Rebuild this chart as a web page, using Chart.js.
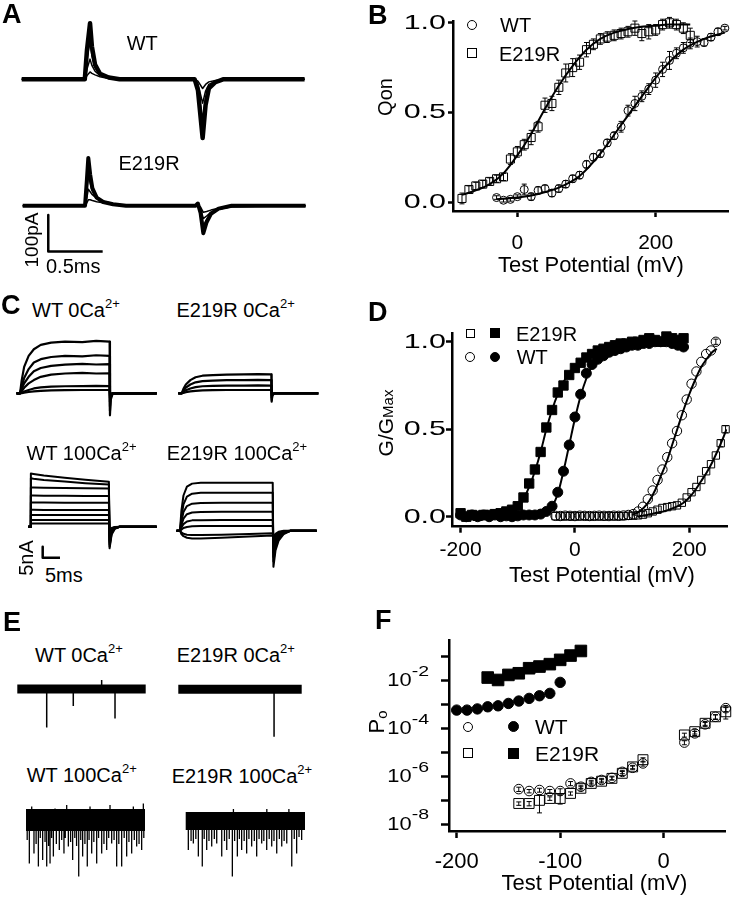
<!DOCTYPE html>
<html>
<head>
<meta charset="utf-8">
<title>WT and E219R: gating charge, G-V and open probability</title>
<script src="https://cdn.jsdelivr.net/npm/chart.js@4.4.1/dist/chart.umd.min.js"></script>
<style>
  html, body { margin: 0; padding: 0; background: #fff; }
  #fig { position: relative; width: 735px; height: 899px; overflow: hidden;
         font-family: 'Liberation Sans', Arial, sans-serif; color: #000; }
  #fig canvas { position: absolute; }
  .t { position: absolute; white-space: nowrap; line-height: 1; font-size: 20px; }
  .t sup { font-size: 0.65em; line-height: 0; vertical-align: 0.72em; }
  .lab { font-size: 27px; font-weight: bold; }
  .axt { font-size: 22px; }
  .rot { transform: translate(-50%, -50%) rotate(-90deg); }
  .mk { position: absolute; box-sizing: border-box; border: 1.3px solid #000; }
  .mk.c { border-radius: 50%; }
  .mk.f { background: #000; }
</style>
</head>
<body>
<div id="fig">
  <!-- trace panels -->
  <canvas id="aWt" width="300" height="130" style="left:15px;top:15px"></canvas>
  <canvas id="aE219r" width="300" height="115" style="left:15px;top:150px"></canvas>
  <canvas id="cWt0" width="152" height="100" style="left:10px;top:325px"></canvas>
  <canvas id="cE0" width="155" height="100" style="left:170px;top:325px"></canvas>
  <canvas id="cWt100" width="152" height="100" style="left:10px;top:462px"></canvas>
  <canvas id="cE100" width="155" height="110" style="left:170px;top:462px"></canvas>
  <canvas id="eWt0" width="145" height="75" style="left:10px;top:670px"></canvas>
  <canvas id="eE0" width="140" height="75" style="left:170px;top:670px"></canvas>
  <canvas id="eWt100" width="145" height="95" style="left:10px;top:790px"></canvas>
  <canvas id="eE100" width="140" height="95" style="left:175px;top:790px"></canvas>
  <!-- plots -->
  <canvas id="qon" width="365" height="290" style="left:370px;top:0px"></canvas>
  <canvas id="gv" width="365" height="300" style="left:370px;top:290px"></canvas>
  <canvas id="po" width="365" height="309" style="left:370px;top:590px"></canvas>

  <!-- panel letters -->
  <div class="t lab" style="left:2px;top:1px">A</div>
  <div class="t lab" style="left:368px;top:2px">B</div>
  <div class="t lab" style="left:1px;top:292px">C</div>
  <div class="t lab" style="left:368px;top:299px">D</div>
  <div class="t lab" style="left:3px;top:609px">E</div>
  <div class="t lab" style="left:375px;top:607px">F</div>

  <!-- trace labels -->
  <div class="t" style="left:126.7px;top:33px">WT</div>
  <div class="t" style="left:118.5px;top:153px">E219R</div>
  <div class="t" style="left:32px;top:300px">WT 0Ca<sup>2+</sup></div>
  <div class="t" style="left:176.5px;top:300px">E219R 0Ca<sup>2+</sup></div>
  <div class="t" style="left:26.5px;top:443px">WT 100Ca<sup>2+</sup></div>
  <div class="t" style="left:166.7px;top:443px">E219R 100Ca<sup>2+</sup></div>
  <div class="t" style="left:35px;top:644.8px">WT 0Ca<sup>2+</sup></div>
  <div class="t" style="left:176.7px;top:644.8px">E219R 0Ca<sup>2+</sup></div>
  <div class="t" style="left:26.7px;top:764.8px">WT 100Ca<sup>2+</sup></div>
  <div class="t" style="left:171.7px;top:766.4px">E219R 100Ca<sup>2+</sup></div>

  <!-- scale bar labels -->
  <div class="t" style="left:46px;top:256.4px">0.5ms</div>
  <div class="t rot" style="left:31px;top:239.5px;font-size:19px">100pA</div>
  <div class="t" style="left:45px;top:564.8px">5ms</div>
  <div class="t rot" style="left:25.8px;top:558.3px">5nA</div>

  <!-- axis titles -->
  <div class="t axt" style="left:498px;top:253.8px">Test Potential (mV)</div>
  <div class="t axt" style="left:509px;top:563.8px">Test Potential (mV)</div>
  <div class="t axt" style="left:501.5px;top:871.5px">Test Potential (mV)</div>
  <div class="t rot" style="left:384.5px;top:97px;font-size:20px">Qon</div>
  <div class="t rot" style="left:385px;top:423.3px;font-size:21px">G/G<span style="font-size:15px">Max</span></div>
  <div class="t rot" style="left:377px;top:722px;font-size:22px">P<span style="font-size:15px;vertical-align:-0.2em">o</span></div>

  <!-- legends -->
  <div class="mk c" style="left:466.7px;top:20px;width:10px;height:10px"></div>
  <div class="t" style="left:500px;top:15.1px">WT</div>
  <div class="mk" style="left:466.7px;top:48.3px;width:10px;height:10px"></div>
  <div class="t" style="left:499px;top:43.6px">E219R</div>

  <div class="mk" style="left:465.5px;top:328.8px;width:9px;height:9px"></div>
  <div class="mk f" style="left:490px;top:328.3px;width:10px;height:10px"></div>
  <div class="t" style="left:516px;top:323.6px">E219R</div>
  <div class="mk c" style="left:465px;top:351.7px;width:10px;height:10px"></div>
  <div class="mk c f" style="left:490px;top:351.7px;width:10px;height:10px"></div>
  <div class="t" style="left:516.7px;top:347px">WT</div>

  <div class="mk c" style="left:463.3px;top:721.7px;width:10px;height:10px"></div>
  <div class="mk c f" style="left:507.8px;top:721.2px;width:11px;height:11px"></div>
  <div class="t" style="left:535px;top:716.2px;font-size:21px">WT</div>
  <div class="mk" style="left:463.3px;top:748.3px;width:10px;height:10px"></div>
  <div class="mk f" style="left:507.8px;top:747.8px;width:11px;height:11px"></div>
  <div class="t" style="left:535px;top:742.7px;font-size:21px">E219R</div>
</div>

<script>
// ---------- A: gating currents (ms, pA) ----------
const aWtMs = [0, 0.58, 0.60, 0.628, 0.645, 0.674, 0.72, 0.80, 0.90, 1.59, 1.62, 1.663, 1.69, 1.72, 1.78, 1.85, 2.6];
const aWtPa = [
  [0, 0, 80, 153, 90, 40, 15, 5, 0, 0, -30, -160, -70, -25, -8, 0, 0],
  [0, 0, 55, 105, 65, 32, 13, 4, 0, 0, -22, -115, -52, -20, -6, 0, 0],
  [0, 0, 28, 55, 38, 22, 10, 3, 0, 0, -12, -65, -32, -14, -5, 0, 0],
  [0, 0, 10, 20, 16, 12, 7, 2, 0, 0, -5, -25, -14, -7, -3, 0, 0]
];
const aE219rMs = [0, 0.573, 0.59, 0.603, 0.62, 0.64, 0.68, 0.74, 0.83, 0.95, 1.59, 1.61, 1.635, 1.66, 1.69, 1.73, 1.80, 1.92, 2.6];
const aE219rPa = [
  [0, 0, 70, 130, 85, 48, 22, 10, 4, 0, 0, 6, -20, -75, -45, -22, -8, 0, 0],
  [0, 0, 45, 85, 62, 40, 24, 12, 5, 0, 0, 4, -14, -55, -38, -22, -10, -2, 0],
  [0, 0, 22, 45, 38, 30, 20, 12, 6, 0, 0, 3, -8, -35, -28, -18, -10, -3, 0],
  [0, 0, 8, 16, 16, 14, 11, 8, 4, 0, 0, 2, -4, -18, -16, -12, -7, -2, 0]
];
const aBarMs = [0.235, 0.235, 0.735];   // 0.5 ms
const aBarPa = [-25, -125, -125];       // 100 pA

// ---------- C: ionic currents (ms, nA) ----------
const c0Ms = [-1, 0, 0.5, 1.2, 2.5, 4, 6, 9, 13, 18, 22, 25.9, 26, 26.2, 26.8, 39.5];
const c0WtNa = [
  [0, 0, 6, 12, 17, 20, 22, 23, 23.5, 23.3, 23.8, 23.5, -10, -3, 0, 0],
  [0, 0, 3, 7, 11, 14, 15.5, 16.5, 17, 16.8, 17.3, 17, -8, -2, 0, 0],
  [0, 0, 2, 4.5, 7.5, 10, 11.5, 12.5, 13, 13.4, 13.1, 13.3, -6, -1.5, 0, 0],
  [0, 0, 1, 2.5, 4.5, 6, 7.5, 8.5, 9, 9.3, 9, 9.1, -4, -1, 0, 0],
  [0, 0, 0.3, 0.8, 1.5, 2.2, 2.7, 3, 3.2, 3.3, 3.4, 3.3, -2, -0.5, 0, 0],
  [0, 0, 0.1, 0.3, 0.6, 0.9, 1.1, 1.3, 1.4, 1.5, 1.5, 1.5, -1, 0, 0, 0]
];
const c0E219rNa = [
  [0, 0, 2, 4, 6, 7.3, 8, 8.3, 8.5, 8.6, 8.7, 8.6, -3.8, -1, 0, 0],
  [0, 0, 1.2, 2.6, 4, 5, 5.5, 5.8, 6, 6, 6.1, 6, -3, -0.7, 0, 0],
  [0, 0, 0.6, 1.4, 2.2, 2.8, 3.2, 3.4, 3.5, 3.5, 3.6, 3.5, -2, -0.4, 0, 0],
  [0, 0, 0.2, 0.5, 0.9, 1.1, 1.3, 1.4, 1.5, 1.5, 1.5, 1.5, -1, 0, 0, 0]
];
const c100WtMs = [-0.5, 0, 0.25, 1, 4, 10, 16, 22.8, 23.0, 23.6, 24.5, 26, 36.6];
const c100WtNa = [
  [0, 0, 24.2, 24, 23.3, 22.3, 21.3, 20.4, -9.8, -3.5, -1, 0, 0],
  [0, 0, 22, 21.8, 21.2, 20.5, 19.8, 19.2, -9, -3, -0.8, 0, 0],
  [0, 0, 17.8, 17.8, 17.7, 17.6, 17.5, 17.4, -8, -2.6, -0.7, 0, 0],
  [0, 0, 14.2, 14.2, 14.1, 14.1, 14, 14, -7, -2.2, -0.6, 0, 0],
  [0, 0, 11, 11, 11, 10.9, 10.9, 10.9, -6, -1.8, -0.5, 0, 0],
  [0, 0, 7.7, 7.7, 7.6, 7.6, 7.6, 7.6, -5, -1.5, -0.4, 0, 0],
  [0, 0, 5.3, 5.3, 5.3, 5.3, 5.3, 5.3, -4, -1.2, -0.3, 0, 0],
  [0, 0, 3, 3, 3, 3, 3, 3, -3, -0.9, -0.2, 0, 0],
  [0, 0, 1.5, 1.5, 1.5, 1.5, 1.5, 1.5, -2, -0.6, -0.1, 0, 0]
];
const c100E219rMs = [-1, 0, 0.4, 1, 2, 3.5, 6, 12, 20, 26.8, 27.0, 27.6, 28.5, 30, 32, 39.5];
const c100E219rNa = [
  [0, 0, 9, 16, 20, 21.4, 21.8, 21.8, 21.8, 21.8, -16.4, -9, -4.5, -1.5, 0, 0],
  [0, 0, 6, 12, 15.5, 16.8, 17.2, 17.3, 17.3, 17.3, -14, -7.5, -3.8, -1.2, 0, 0],
  [0, 0, 4, 8.5, 11.2, 12.3, 12.6, 12.7, 12.7, 12.7, -12, -6.5, -3.2, -1, 0, 0],
  [0, 0, 2.5, 5.5, 7.5, 8.3, 8.5, 8.6, 8.6, 8.6, -10, -5.5, -2.6, -0.8, 0, 0],
  [0, 0, 1.3, 3, 4.2, 4.7, 4.8, 4.9, 4.9, 4.9, -8, -4.2, -2, -0.6, 0, 0],
  [0, 0, 0.5, 1.2, 1.7, 2, 2.1, 2.1, 2.1, 2.1, -6, -3, -1.5, -0.4, 0, 0],
  [0, 0, -1.5, -2.5, -3.2, -3.5, -3.5, -3.2, -2.6, -2.2, -4, -2, -0.8, -0.2, 0, 0],
  [0, 0, -0.8, -1.4, -1.8, -2, -2, -1.8, -1.5, -1.2, -3, -1.4, -0.5, 0, 0, 0]
];
const cBarMs = [3.67, 3.67, 8.67];   // 5 ms
const cBarNa = [-9.1, -14.1, -14.1]; // 5 nA

// ---------- E: single channel openings (sweep %, pA) ----------
const eWt0T = [22.9, 43.6, 65.7, 76.1];
const eWt0Pa = [-19.3, -8.5, 4.5, -14.7];
const eE0T = [77.6];
const eE0Pa = [-23.7];
const eWt100T = [1, 2.8, 4.8, 6.7, 8.5, 10.4, 12, 14, 14.6, 16, 17.4, 19, 20.2, 21.5, 23, 24.4, 25.5, 28,
  30, 31.9, 33, 34.2, 35.6, 37.5, 39.2, 41, 42.5, 44.3, 45.4, 46, 47.6, 49.5, 51.5, 53, 53.8, 55.2, 57,
  59.4, 61, 63.6, 65.5, 67.8, 69.5, 70.6, 72, 74, 76.2, 78, 80.4, 81.8, 82.5, 84.6, 86.5, 88.8, 90.2,
  91, 93, 95, 97.2, 98.6, 99];
const eWt100Pa = [-10, -21.7, 6.7, -16.7, -12, -23.3, -9, -20, 5, -11, -23.3, -13, -21.7, -9, -18.3, 5.8, -12, -15,
  -10, -16.7, -9, 7.5, -13.3, -11, -20, -9, -13, -28.3, 5, -10, -18.3, -12, -23.3, -10, 6.7, -16.7, -11,
  -21.7, -9, -16.7, -12, -15, -9, 7.5, -11.7, -10, -23.3, -12, -23.3, 5, -9, -18.3, -11, -16.7, 6.7,
  -10, -13.3, -12, -15, 8.3, -9];
const eE100T = [2.2, 4.5, 6.4, 8.5, 10.6, 12, 13.9, 15.5, 17.6, 19.5, 21.8, 24, 26, 28, 30.2, 32.5, 34.4,
  36.5, 39.1, 40, 41, 43.3, 45, 46.9, 49, 51.1, 53, 55.3, 56.8, 57.5, 59.5, 61.5, 63.7, 65.5, 67.9, 68,
  70, 72.1, 74, 76.3, 78.5, 80.5, 82.5, 84.7, 86.5, 88.9, 91, 93, 95, 95.9, 97.2];
const eE100Pa = [-14.5, -10, -11.2, -9, -17.8, 3, -22.8, -9, -14.5, -10, -12.8, -9, -11.2, 4, -17.8, -10, -14.5,
  -9, -27.8, 6, -10, -17.8, -9, -14.5, -10, -16.2, -9, -12.8, 4, -10, -17.8, -9, -11.2, -10, -14.5, 6,
  -9, -12.8, -10, -16.2, -9, -12.8, -10, -11.2, 6, -22.8, -9, -16.2, -8, 4, -9.5];

// ---------- B: Qon-V ----------
const qonWtMv = [-30, -20, -10, 0, 10, 20, 30, 40, 50, 60, 70, 80, 90, 100, 110, 120, 130, 140, 150, 160,
  170, 180, 190, 200, 210, 220, 230, 240, 250, 260, 270, 280, 290, 300];
const qonWt = [0.025, 0.01, 0.015, 0.03, 0.07, 0.03, 0.065, 0.075, 0.05, 0.075, 0.10, 0.13, 0.15, 0.21, 0.25,
  0.27, 0.33, 0.37, 0.42, 0.51, 0.55, 0.59, 0.63, 0.68, 0.74, 0.79, 0.83, 0.86, 0.885, 0.895, 0.89, 0.92, 0.95, 0.97];
const qonWtErr = [0.01, 0.01, 0.01, 0.01, 0.03, 0.02, 0.02, 0.02, 0.02, 0.02, 0.02, 0.02, 0.02, 0.02, 0.02,
  0.02, 0.02, 0.02, 0.03, 0.03, 0.04, 0.03, 0.03, 0.04, 0.04, 0.05, 0.03, 0.03, 0.03, 0.03, 0.02, 0.02, 0.02, 0.01];
const qonE219rMv = [-80, -70, -60, -50, -40, -30, -20, -10, 0, 10, 20, 30, 40, 50, 60, 70, 80, 90, 100, 110,
  120, 130, 140, 150, 160, 170, 180, 190, 200, 210, 220, 230, 240, 250];
const qonE219r = [0.02, 0.07, 0.09, 0.10, 0.115, 0.13, 0.14, 0.24, 0.28, 0.32, 0.36, 0.42, 0.54, 0.55, 0.64,
  0.72, 0.75, 0.78, 0.85, 0.88, 0.91, 0.92, 0.93, 0.94, 0.95, 0.97, 0.94, 0.95, 0.96, 0.99, 1.0, 0.99, 0.97, 0.93];
const qonE219rErr = [0.03, 0.02, 0.02, 0.02, 0.02, 0.02, 0.02, 0.03, 0.03, 0.03, 0.04, 0.03, 0.04, 0.04, 0.04,
  0.05, 0.05, 0.04, 0.04, 0.03, 0.03, 0.03, 0.03, 0.03, 0.03, 0.04, 0.04, 0.04, 0.03, 0.03, 0.03, 0.03, 0.03, 0.04];
const qonWtFitMv = [-30, 0, 30, 60, 90, 120, 150, 165, 180, 210, 240, 270, 300];
const qonWtFit = [0.015, 0.025, 0.045, 0.08, 0.145, 0.27, 0.43, 0.51, 0.59, 0.74, 0.85, 0.91, 0.945];
const qonE219rFitMv = [-80, -60, -40, -20, 0, 20, 40, 60, 80, 100, 120, 140, 160, 180, 200, 220, 250];
const qonE219rFit = [0.04, 0.065, 0.10, 0.16, 0.26, 0.38, 0.52, 0.65, 0.76, 0.85, 0.91, 0.945, 0.965, 0.978, 0.985, 0.99, 0.99];
const qonXTicks = [0, 200];
const qonYTicks = [0, 0.5, 1.0];

// ---------- D: G/Gmax-V ----------
const gClosedMv = [-200, -190, -180, -170, -160, -150, -140, -130, -120, -110, -100, -90, -80, -70, -60, -50,
  -40, -30, -20, -10, 0, 10, 20, 30, 40, 50, 60, 70, 80, 90, 100, 110, 120, 130, 140, 150, 160, 170, 180, 190];
const gE219r100Ca = [0.02, 0.0, 0.01, 0.005, 0.01, 0.01, 0.015, 0.02, 0.03, 0.04, 0.06, 0.11, 0.19, 0.27, 0.37,
  0.51, 0.61, 0.71, 0.75, 0.81, 0.85, 0.88, 0.91, 0.93, 0.95, 0.96, 0.97, 0.98, 0.99, 0.99, 1.0, 1.0, 1.01, 1.02,
  1.01, 1.0, 1.03, 1.02, 1.01, 1.02];
const gWt100Ca = [0.01, 0.0, 0.01, 0.0, 0.01, 0.0, 0.01, 0.0, 0.005, 0.0, 0.005, 0.01, 0.01, 0.01, 0.015, 0.03,
  0.06, 0.14, 0.26, 0.41, 0.57, 0.70, 0.82, 0.87, 0.90, 0.92, 0.94, 0.95, 0.96, 0.97, 0.98, 0.98, 0.99, 0.99,
  1.0, 1.0, 1.0, 0.99, 0.98, 0.97];
const gOpenMv = [-34, -25.5, -17, -8.5, 0, 8.5, 17, 25.5, 34, 42.5, 51, 59.5, 68, 76.5, 85, 93.5, 102, 110.5,
  119, 127.5, 136, 144.5, 153, 161.5, 170, 178.5, 187, 195.5, 204, 212.5, 221, 229.5, 238, 246.5, 255, 263.5];
const gWt0Ca = [0.005, 0.004, 0.006, 0.005, 0.004, 0.006, 0.005, 0.004, 0.005, 0.006, 0.005, 0.004, 0.006, 0.005,
  0.007, 0.01, 0.015, 0.03, 0.057, 0.10, 0.15, 0.21, 0.27, 0.34, 0.42, 0.49, 0.58, 0.67, 0.76, 0.83, 0.885, 0.93,
  0.95, 1.0];
const gWt0CaErr = [0, 0, 0, 0, 0, 0, 0, 0, 0, 0, 0, 0, 0, 0, 0, 0, 0, 0, 0, 0, 0, 0, 0, 0, 0, 0, 0, 0, 0, 0, 0, 0, 0, 0.015];
const gE219r0Ca = [0.003, 0.002, 0.004, 0.003, 0.002, 0.003, 0.004, 0.002, 0.003, 0.003, 0.002, 0.004, 0.003,
  0.003, 0.004, 0.005, 0.006, 0.008, 0.012, 0.02, 0.03, 0.04, 0.05, 0.055, 0.06, 0.065, 0.08, 0.11, 0.14, 0.17,
  0.21, 0.26, 0.30, 0.35, 0.42, 0.50];
const gE219r0CaErr = [0, 0, 0, 0, 0, 0, 0, 0, 0, 0, 0, 0, 0, 0, 0, 0, 0, 0, 0, 0, 0, 0, 0, 0, 0, 0, 0, 0, 0, 0, 0, 0, 0, 0, 0.02, 0.02];
const gE219r100CaFitMv = [-200, -140, -120, -110, -100, -90, -80, -70, -60, -50, -40, -30, -20, -10, 0, 20, 40, 60, 100, 140, 190];
const gE219r100CaFit = [0.0, 0.01, 0.02, 0.03, 0.05, 0.1, 0.17, 0.26, 0.37, 0.5, 0.61, 0.7, 0.77, 0.82, 0.86, 0.915, 0.95, 0.97, 0.99, 1.0, 1.0];
const gWt100CaFitMv = [-90, -60, -50, -40, -30, -20, -10, 0, 10, 20, 30, 40, 60, 80, 100, 140, 190];
const gWt100CaFit = [0.0, 0.01, 0.025, 0.06, 0.13, 0.26, 0.41, 0.56, 0.69, 0.79, 0.86, 0.9, 0.95, 0.97, 0.98, 0.99, 1.0];
const gWt0CaFitMv = [100, 110, 120, 130, 140, 150, 160, 170, 180, 190, 200, 210, 220, 230, 240, 248];
const gWt0CaFit = [0.01, 0.025, 0.05, 0.09, 0.15, 0.23, 0.31, 0.41, 0.51, 0.61, 0.70, 0.78, 0.85, 0.9, 0.94, 0.96];
const gE219r0CaFitMv = [110, 140, 160, 180, 190, 200, 210, 220, 230, 240, 250, 258, 265];
const gE219r0CaFit = [0.0, 0.02, 0.035, 0.06, 0.08, 0.11, 0.15, 0.2, 0.25, 0.31, 0.38, 0.44, 0.5];
const gXTicks = [-200, 0, 200];
const gYTicks = [0, 0.5, 1.0];

// ---------- F: Po-V ----------
const poWtMv = [-200, -190, -180, -170, -160, -150, -140, -130, -120, -110, -100];
const poWt100Ca = [5.9e-4, 5.9e-4, 6.6e-4, 8.1e-4, 8.9e-4, 1.12e-3, 1.41e-3, 1.82e-3, 2.34e-3, 2.95e-3, 8.5e-3];
const poE219rMv = [-170, -160, -150, -140, -130, -120, -110, -100, -90, -80];
const poE219r100Ca = [0.0135, 0.0107, 0.0174, 0.0204, 0.0331, 0.0389, 0.049, 0.074, 0.112, 0.174];
const poLowMv = [-140, -130, -120, -110, -100, -90, -80, -70, -60, -50, -40, -30, -20, 20, 30, 40, 50, 60];
const poWt0Ca = [2.95e-7, 2.45e-7, 2.7e-7, 2.45e-7, 2.45e-7, 5.1e-7, 3.7e-7, 5.9e-7, 7.1e-7, 8.7e-7, 1.55e-6,
  2.3e-6, 3.5e-6, 2.6e-5, 6.3e-5, 1.5e-4, 3.1e-4, 7.1e-4];
const poWt0CaErr = [6e-8, 4e-8, 5e-8, 4e-8, 6e-8, 1e-7, 6e-8, 1e-7, 1.2e-7, 1.5e-7, 2.5e-7, 4e-7, 8e-7, 5e-6,
  1.2e-5, 3e-5, 7e-5, 2e-4];
const poE219r0Ca = [7.4e-8, 7.4e-8, 1.0e-7, 1.2e-7, 1.2e-7, 1.95e-7, 3.2e-7, 5.1e-7, 6.3e-7, 8.3e-7, 1.35e-6,
  2.5e-6, 5.0e-6, 5.4e-5, 7.4e-5, 1.66e-4, 3.1e-4, 5.0e-4];
const poE219r0CaErr = [1.2e-8, 1.5e-8, 7e-8, 2e-8, 5e-8, 3e-8, 5e-8, 8e-8, 1e-7, 1.2e-7, 2.5e-7, 4e-7, 1e-6,
  1e-5, 1.5e-5, 3e-5, 6e-5, 2.5e-4];
const poXTicks = [-200, -100, 0];
const poYTicks = [1e-8, 1e-7, 1e-6, 1e-5, 1e-4, 1e-3, 1e-2, 1e-1];

// ===========================
// Helpers
// ===========================
const FONT = "'Liberation Sans', Arial, sans-serif";
Chart.defaults.font.family = FONT;
Chart.defaults.color = '#000';

function pts(xs, ys) {
  return xs.map((x, i) => ({ x: x, y: ys[i] }));
}

// vertical error bars with small caps
const errorBars = {
  id: 'errorBars',
  afterDatasetsDraw(chart) {
    const ctx = chart.ctx;
    chart.data.datasets.forEach((ds, i) => {
      if (!ds.errors) return;
      const meta = chart.getDatasetMeta(i);
      const ys = chart.scales[meta.yAxisID];
      ctx.save();
      ctx.strokeStyle = '#000';
      ctx.lineWidth = 1;
      meta.data.forEach((p, j) => {
        const e = ds.errors[j];
        if (!e) return;
        const v = ds.data[j].y;
        const y1 = ys.getPixelForValue(v - e);
        const y2 = ys.getPixelForValue(v + e);
        ctx.beginPath();
        ctx.moveTo(p.x, y1); ctx.lineTo(p.x, y2);
        ctx.moveTo(p.x - 2.5, y1); ctx.lineTo(p.x + 2.5, y1);
        ctx.moveTo(p.x - 2.5, y2); ctx.lineTo(p.x + 2.5, y2);
        ctx.stroke();
      });
      ctx.restore();
    });
  }
};

// y tick labels, drawn a little wider than normal like the original figure
const yLabels = {
  id: 'yLabels',
  afterDraw(chart, args, o) {
    const s = chart.scales.y;
    const ctx = chart.ctx;
    ctx.save();
    ctx.fillStyle = '#000';
    ctx.textBaseline = 'middle';
    ctx.textAlign = 'right';
    s.ticks.forEach(t => {
      const y = s.getPixelForValue(t.value);
      let x = s.right - o.gap;
      let txt = t.value.toFixed(1);
      if (o.log) {
        const p = Math.round(Math.log10(t.value));
        if (p % 2) return;
        ctx.save();
        ctx.translate(x, y + o.expDy);
        ctx.scale(o.expStretch, 1);
        ctx.font = o.expSize + 'px ' + FONT;
        ctx.fillText(String(p), 0, 0);
        x -= ctx.measureText(String(p)).width * o.expStretch;
        ctx.restore();
        txt = '10';
      }
      ctx.save();
      ctx.translate(x, y);
      ctx.scale(o.stretch, 1);
      ctx.font = o.size + 'px ' + FONT;
      ctx.fillText(txt, 0, 0);
      ctx.restore();
    });
    ctx.restore();
  }
};

function axisX(min, max, ticks, o) {
  return {
    type: 'linear', min: min, max: max,
    afterBuildTicks: s => { s.ticks = ticks.map(v => ({ value: v })); },
    afterFit: s => { s.height = o.height; },
    grid: { drawOnChartArea: false, tickLength: o.tick, tickWidth: 2.5, tickColor: '#000' },
    border: { color: '#000', width: 2.5 },
    ticks: { font: { size: o.size }, padding: o.pad, maxRotation: 0, autoSkip: false, color: '#000' }
  };
}

function axisY(type, min, max, ticks, o) {
  return {
    type: type, min: min, max: max,
    afterBuildTicks: s => { s.ticks = ticks.map(v => ({ value: v })); },
    afterFit: s => { s.width = o.width; },
    grid: { drawOnChartArea: false, tickLength: o.tick, tickWidth: 2.5, tickColor: '#000' },
    border: { color: '#000', width: 2.5 },
    ticks: { display: false }
  };
}

function fitLine(xs, ys) {
  return { data: pts(xs, ys), showLine: true, borderColor: '#000', borderWidth: 2, pointRadius: 0,
           cubicInterpolationMode: 'monotone', order: 0 };
}

function markers(xs, ys, style, r, filled, errors) {
  return { data: pts(xs, ys), errors: errors, pointStyle: style, pointRadius: r,
           borderColor: '#000', borderWidth: 1,
           backgroundColor: filled ? '#000' : 'rgba(0,0,0,0)', clip: false, order: 1 };
}

function plotOptions(padding, x, y, labels) {
  return {
    responsive: false, animation: false, events: [],
    layout: { padding: padding },
    plugins: { legend: { display: false }, tooltip: { enabled: false }, yLabels: labels },
    scales: { x: x, y: y }
  };
}

function trace(ms, vals, width) {
  return { data: pts(ms, vals), borderColor: '#000', borderWidth: width, pointRadius: 0,
           tension: 0, borderJoinStyle: 'round' };
}

function spikes(t, amp, width) {
  const d = [];
  t.forEach((x, i) => { d.push({ x: x, y: 0 }, { x: x, y: amp[i] }, { x: x, y: null }); });
  return { data: d, borderColor: '#000', borderWidth: width, pointRadius: 0, spanGaps: false };
}

function band(width) {
  return { data: [{ x: 0, y: 0 }, { x: 100, y: 0 }], borderColor: '#000', borderWidth: width, pointRadius: 0 };
}

// x0 / y0: page pixel of the zero of each axis, px: pixels per unit
function traceChart(id, x0, xPx, y0, yPx, datasets) {
  const el = document.getElementById(id);
  const left = el.offsetLeft, top = el.offsetTop;
  return new Chart(el, {
    type: 'line',
    data: { datasets: datasets },
    options: {
      responsive: false, animation: false, events: [],
      plugins: { legend: { display: false }, tooltip: { enabled: false } },
      scales: {
        x: { type: 'linear', display: false, min: (left - x0) / xPx, max: (left + el.width - x0) / xPx },
        y: { type: 'linear', display: false, min: (y0 - top - el.height) / yPx, max: (y0 - top) / yPx }
      }
    }
  });
}

// ===========================
// Panel A
// ===========================
traceChart('aWt', 21.7, 108.8, 79.3, 0.367,
  aWtPa.map((v, i) => trace(aWtMs, v, i === 0 ? 4.5 : 1.5)));
traceChart('aE219r', 22.7, 108.8, 205.7, 0.367,
  aE219rPa.map((v, i) => trace(aE219rMs, v, i === 0 ? 4 : 1.5))
    .concat([trace(aBarMs, aBarPa, 2.5)]));

// ===========================
// Panel C
// ===========================
traceChart('cWt0', 20, 3.46, 393.3, 2.2, c0WtNa.map(v => trace(c0Ms, v, 2.2)));
traceChart('cE0', 181.7, 3.46, 393.3, 2.2, c0E219rNa.map(v => trace(c0Ms, v, 2.2)));
traceChart('cWt100', 30, 3.46, 526.7, 2.2,
  c100WtNa.map(v => trace(c100WtMs, v, 2)).concat([trace(cBarMs, cBarNa, 2.5)]));
traceChart('cE100', 180, 3.46, 530.7, 2.2, c100E219rNa.map(v => trace(c100E219rMs, v, 2)));

// ===========================
// Panel E
// ===========================
traceChart('eWt0', 17.3, 1.284, 689, 2, [band(9), spikes(eWt0T, eWt0Pa, 1.5)]);
traceChart('eE0', 178.3, 1.234, 689.3, 2, [band(9), spikes(eE0T, eE0Pa, 1.5)]);
traceChart('eWt100', 26, 1.19, 820, 2, [band(22), spikes(eWt100T, eWt100Pa, 1.3)]);
traceChart('eE100', 185.7, 1.193, 821, 2, [band(18), spikes(eE100T, eE100Pa, 1.3)]);

// ===========================
// Panel B: Qon
// ===========================
new Chart(document.getElementById('qon'), {
  type: 'scatter',
  data: {
    datasets: [
      fitLine(qonWtFitMv, qonWtFit),
      fitLine(qonE219rFitMv, qonE219rFit),
      markers(qonWtMv, qonWt, 'circle', 4, false, qonWtErr),
      markers(qonE219rMv, qonE219r, 'rect', 5.7, false, qonE219rErr)
    ]
  },
  options: plotOptions({ top: 21, right: 5, left: 0, bottom: 0 },
    axisX(-93, 305, qonXTicks, { height: 79, tick: 6, size: 21, pad: 14 }),
    axisY('linear', -0.05, 1.01, qonYTicks, { width: 83, tick: 5 }),
    { size: 21, stretch: 1.45, gap: 7 }),
  plugins: [errorBars, yLabels]
});

// ===========================
// Panel D: G/Gmax
// ===========================
new Chart(document.getElementById('gv'), {
  type: 'scatter',
  data: {
    datasets: [
      fitLine(gE219r100CaFitMv, gE219r100CaFit),
      fitLine(gWt100CaFitMv, gWt100CaFit),
      fitLine(gWt0CaFitMv, gWt0CaFit),
      fitLine(gE219r0CaFitMv, gE219r0CaFit),
      markers(gClosedMv, gE219r100Ca, 'rect', 6.6, true),
      markers(gClosedMv, gWt100Ca, 'circle', 5, true),
      markers(gOpenMv, gWt0Ca, 'circle', 4.7, false, gWt0CaErr),
      markers(gOpenMv, gE219r0Ca, 'rect', 5.2, false, gE219r0CaErr)
    ]
  },
  options: plotOptions({ top: 43, right: 8, left: 0, bottom: 0 },
    axisX(-215, 266, gXTicks, { height: 63.3, tick: 6, size: 21, pad: 5 }),
    axisY('linear', -0.057, 1.05, gYTicks, { width: 82, tick: 6 }),
    { size: 21, stretch: 1.45, gap: 6 }),
  plugins: [errorBars, yLabels]
});

// ===========================
// Panel F: Po
// ===========================
new Chart(document.getElementById('po'), {
  type: 'scatter',
  data: {
    datasets: [
      markers(poE219rMv, poE219r100Ca, 'rect', 8.2, true),
      markers(poWtMv, poWt100Ca, 'circle', 5.2, true),
      markers(poLowMv, poWt0Ca, 'circle', 4.8, false, poWt0CaErr),
      markers(poLowMv, poE219r0Ca, 'rect', 7, false, poE219r0CaErr)
    ]
  },
  options: plotOptions({ top: 50, right: 8.3, left: 0, bottom: 0 },
    axisX(-207.4, 60, poXTicks, { height: 68, tick: 7, size: 22, pad: 11 }),
    axisY('logarithmic', 5.25e-9, 0.5, poYTicks, { width: 79, tick: 8 }),
    { log: true, size: 19, stretch: 1.15, gap: 20, expSize: 15, expStretch: 1.3, expDy: -9 }),
  plugins: [errorBars, yLabels]
});
</script>
</body>
</html>
